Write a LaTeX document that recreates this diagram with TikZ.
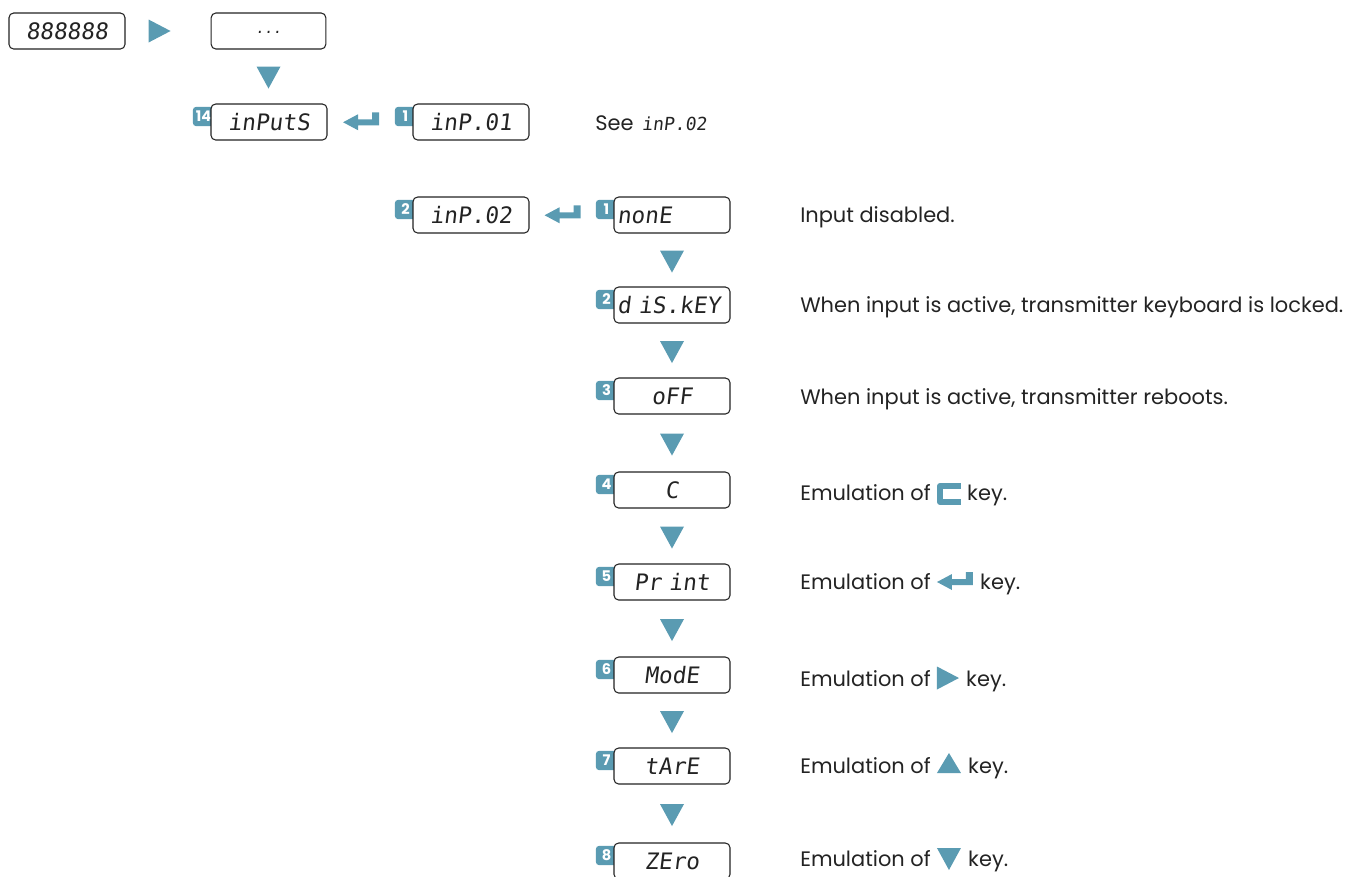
\documentclass[tikz,border=0pt]{standalone}
\usepackage{fontspec}
\setmainfont{Poppins}
\newfontfamily\seg[FakeSlant=0.12]{DejaVu Sans Mono}
\usetikzlibrary{calc}
\definecolor{tealk}{RGB}{90,155,178}
\definecolor{ink}{RGB}{35,35,35}
\tikzset{
  disp/.style={draw=ink, line width=0.8pt, rounded corners=3.5pt, fill=white,
    minimum height=27pt, text width=78pt, inner xsep=4.5pt, inner ysep=0pt,
    align=center, font=\seg\fontsize{17}{17}\selectfont, text=ink},
  dispL/.style={disp, text width=82pt, inner xsep=2.5pt, align=left},
  badge/.style={fill=tealk, rounded corners=2.5pt, minimum width=16pt, minimum height=14.5pt,
    inner sep=0.5pt, text=white, font=\bfseries\fontsize{11}{11}\selectfont},
  txt/.style={font=\fontsize{15.7}{18}\selectfont, text=ink, inner sep=0pt, anchor=base west},
  pics/dtri/.style={code={\fill[tealk] (-12,-11) -- (12,-11) -- (0,11) -- cycle;}},
  pics/utri/.style={code={\fill[tealk] (-12,9) -- (12,9) -- (0,-11) -- cycle;}},
  pics/rtri/.style={code={\fill[tealk] (-11,-11.5) -- (11,0) -- (-11,11.5) -- cycle;}},
  pics/enter/.style={code={\fill[tealk] (0,0) -- (15,-8) -- (15,-3) -- (29,-3) -- (29,-10)
      -- (36,-10) -- (36,3) -- (15,3) -- (15,8) -- cycle;}},
  pics/ckey/.style={code={\draw[tealk, line width=4.5pt, line join=round]
      (24,-8) -- (3,-8) -- (3,8) -- (24,8);}},
}
% name, x-left, y-top, badge, text, style
\newcommand\dbox[6]{%
  \node[badge] (#1b) at (#2-7.5,#3+12.5) {#4};
  \node[#6] (#1) at (#2+58,#3+18) {#5};}
\begin{document}
\begin{tikzpicture}[x=0.75pt,y=-0.75pt]
\useasboundingbox (0,0) rectangle (1346,876);
% top row
\node[disp] (b0) at (67,31) {888888};
\node[disp, text width=77pt] (b1) at (268.5,31) {\raisebox{-3pt}{\fontsize{11}{11}\selectfont ...}};
\path (b0.east) -- (b1.west) coordinate[pos=0.4] (m0);
\pic at (m0) {rtri};
\path (b1.south) -- ++(0,28) coordinate (m1);
\pic at (m1) {dtri};
% inputs row
\dbox{bin}{211}{104}{14}{inPutS}{disp}
\dbox{b01}{413}{104}{1}{inP.01}{disp}
\path (bin.east) -- (b01b.west) coordinate[midway] (m2);
\pic at ($(m2)+(-18,3)$) {enter};
\node[txt] (see) at (595,130) {See \hspace{2pt}{\seg\fontsize{13.5}{13.5}\selectfont inP.02}};
% inp.02 row
\dbox{b02}{413}{197}{2}{inP.02}{disp}
\dbox{o1}{614}{197}{1}{nonE}{dispL}
\path (b02.east) -- (o1b.west) coordinate[midway] (m3);
\pic at ($(m3)+(-18,3)$) {enter};
\dbox{o2}{614}{287}{2}{d iS.kEY}{dispL}
\dbox{o3}{614}{378}{3}{oFF}{disp}
\dbox{o4}{614}{472}{4}{C}{disp}
\dbox{o5}{614}{564}{5}{Pr int}{disp}
\dbox{o6}{614}{657}{6}{ModE}{disp}
\dbox{o7}{614}{748}{7}{tArE}{disp}
\dbox{o8}{614}{843}{8}{ZEro}{disp}
\foreach \a/\b in {o1/o2b,o2/o3b,o3/o4b,o4/o5b,o5/o6b,o6/o7b,o7/o8b}{
  \path (\a.south) -- (\a.south |- \b.north) coordinate[midway] (mm);
  \pic at (mm) {dtri};
}
% descriptions
\node[txt] (t1) at (800,222) {Input disabled.};
\node[txt] (t2) at (800,312) {When input is active, transmitter keyboard is locked.};
\node[txt] (t3) at (800,404) {When input is active, transmitter reboots.};
\node[txt] (t4) at (800,500) {Emulation of};
\pic at ($(t4.base east)+(6,-6)$) {ckey};
\node[txt] (k4) at ($(t4.base east)+(36,0)$) {key.};
\node[txt] (t5) at (800,589) {Emulation of};
\pic at ($(t5.base east)+(6,-7)$) {enter};
\node[txt] (k5) at ($(t5.base east)+(49,0)$) {key.};
\node[txt] (t6) at (800,686) {Emulation of};
\pic at ($(t6.base east)+(17,-8)$) {rtri};
\node[txt] (k6) at ($(t6.base east)+(35,0)$) {key.};
\node[txt] (t7) at (800,773) {Emulation of};
\pic at ($(t7.base east)+(18,-9)$) {utri};
\node[txt] (k7) at ($(t7.base east)+(37,0)$) {key.};
\node[txt] (t8) at (800,866) {Emulation of};
\pic at ($(t8.base east)+(18,-7)$) {dtri};
\node[txt] (k8) at ($(t8.base east)+(37,0)$) {key.};
\end{tikzpicture}
\end{document}
